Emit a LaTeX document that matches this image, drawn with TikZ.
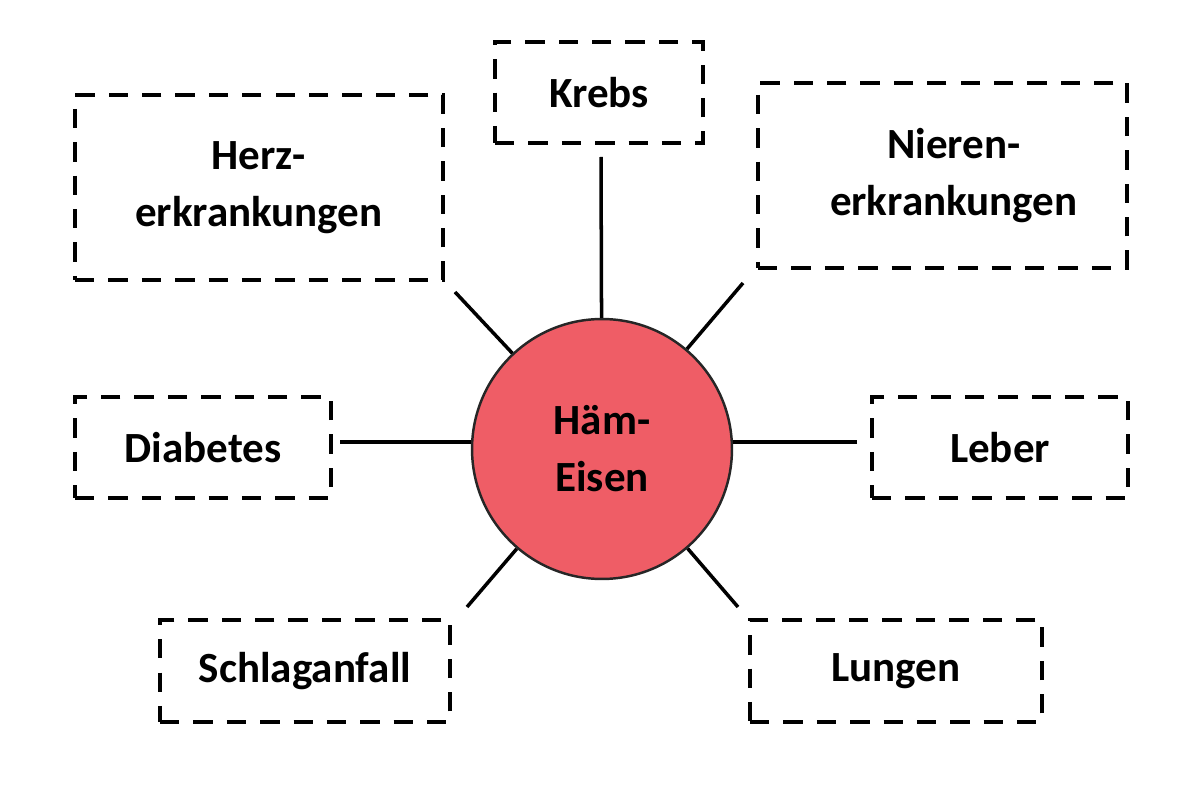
\documentclass[tikz,border=0pt]{standalone}
\usepackage{fontspec}
\setmainfont{Carlito}
\definecolor{haemred}{RGB}{239,93,102}
\newcommand{\diagfont}{\fontsize{24.5}{32.5}\selectfont\bfseries}

\begin{document}
\begin{tikzpicture}[x=0.02cm, y=-0.02cm,
    disease/.style={draw, line width=2.6pt, dash pattern=on 11pt off 8pt,
        align=center, inner sep=0pt, font=\diagfont},
    spoke/.style={line width=2pt}]

    % Fix the page to the size of the reference
    \useasboundingbox (0,0) rectangle (1193,800);

    % The central circle
    \node[circle, draw=black!85, line width=1.4pt, fill=haemred, minimum size=5.2cm,
        inner sep=0pt, align=center, font=\diagfont] (haem) at (602,449) {Häm-\\Eisen};

    % The dashed boxes around it
    \node[disease, minimum width=4.16cm, minimum height=2.02cm] (krebs) at (599,92.5) {Krebs};
    \node[disease, minimum width=7.36cm, minimum height=3.7cm] (herz) at (259,187.5) {Herz-\\erkrankungen};
    \node[disease, minimum width=7.38cm, minimum height=3.7cm] (nieren) at (942.5,175.5) {\hspace*{0.45cm}Nieren-\\\hspace*{0.45cm}erkrankungen};
    \node[disease, minimum width=5.12cm, minimum height=2.02cm] (diabetes) at (203,447.5) {Diabetes};
    \node[disease, minimum width=5.12cm, minimum height=2.02cm] (leber) at (1000,447.5) {Leber};
    \node[disease, minimum width=5.8cm, minimum height=2.04cm] (schlag) at (305,671) {Schlaganfall};
    \node[disease, minimum width=5.84cm, minimum height=2.04cm] (lungen) at (896,671) {Lungen};

    % Free ends of the spokes, just short of the boxes
    \coordinate (krEnd) at (601,157);
    \coordinate (hzEnd) at (455,292);
    \coordinate (niEnd) at (743,283);
    \coordinate (dbEnd) at (340,442);
    \coordinate (leEnd) at (857,442);
    \coordinate (scEnd) at (467,607);
    \coordinate (luEnd) at (738,607);

    % Draw the spokes from the circle
    \draw[spoke] (haem) -- (krEnd);
    \draw[spoke] (haem) -- (hzEnd);
    \draw[spoke] (haem) -- (niEnd);
    \draw[spoke] (dbEnd) -- (dbEnd -| haem.west);
    \draw[spoke] (leEnd) -- (leEnd -| haem.east);
    \draw[spoke] (haem) -- (scEnd);
    \draw[spoke] (haem) -- (luEnd);

\end{tikzpicture}
\end{document}
